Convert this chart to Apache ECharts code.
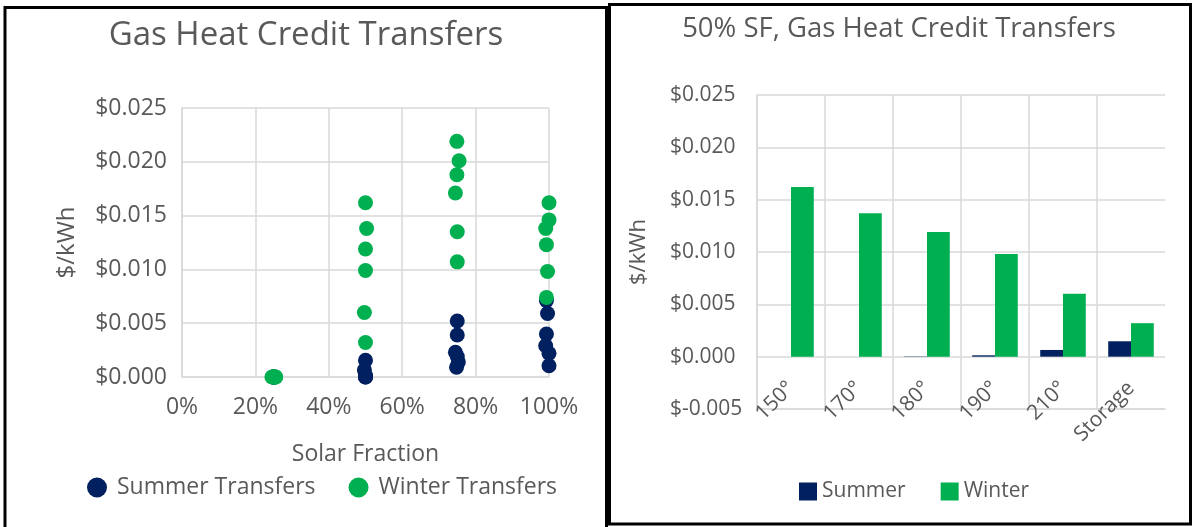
<!DOCTYPE html>
<html><head><meta charset="utf-8">
<script src="https://cdn.jsdelivr.net/npm/echarts@6/dist/echarts.min.js"></script>
<style>html,body{margin:0;padding:0;background:#fff;}#c{width:1193px;height:527px;}</style>
</head><body><div id="c"></div>
<script>
const FONT = '"Open Sans", sans-serif';
const TXT = '#595959';
const GRIDC = '#d9d9d9';
const NAVY = '#002060';
const GREEN = '#00B050';

const scatterTitle = 'Gas Heat Credit Transfers';
const barTitle = '50% SF, Gas Heat Credit Transfers';
const yAxisName = '$/kWh';
const xAxisName = 'Solar Fraction';
const scatterNames = ['Summer Transfers', 'Winter Transfers'];
const barNames = ['Summer', 'Winter'];

// [solar fraction, $/kWh]
const summerTransfers = [
  [0.25,0],[0.25,0],[0.25,0],[0.25,0],[0.25,0],[0.25,0],
  [0.5,0],[0.5,0],[0.5,0.00003],[0.5,0.00013],[0.497,0.00064],[0.5,0.00155],
  [0.748,0.0009],[0.753,0.0014],[0.75,0.0019],[0.745,0.0023],[0.75,0.0039],[0.75,0.0052],
  [1.0,0.00105],[1.0,0.0022],[0.991,0.0029],[0.993,0.0040],[0.996,0.0059],[0.993,0.0071]
];
const winterTransfers = [
  [0.245,0],[0.25,0],[0.25,0],[0.255,0],[0.255,0],[0.25,0],
  [0.5,0.0162],[0.503,0.0138],[0.5,0.0119],[0.5,0.0099],[0.497,0.0060],[0.5,0.0032],
  [0.749,0.0219],[0.755,0.0201],[0.749,0.0188],[0.745,0.0171],[0.75,0.0135],[0.75,0.0107],
  [1.0,0.0162],[1.0,0.0146],[0.991,0.0138],[0.993,0.0123],[0.996,0.0098],[0.993,0.0074]
];

const barCategories = ['150°','170°','180°','190°','210°','Storage'];
const barSummer = [0, 0, 0.00003, 0.00013, 0.00064, 0.00147];
const barWinter = [0.0162, 0.0137, 0.0119, 0.0098, 0.0060, 0.0032];

const money = v => '$' + v.toFixed(3);
const pct = v => Math.round(v * 100) + '%';

const chart = echarts.init(document.getElementById('c'), null, {renderer: 'canvas'});
const lbl = (size) => ({fontFamily: FONT, fontSize: size, color: TXT});

chart.setOption({
  animation: false,
  backgroundColor: '#fff',
  title: [
    {text: scatterTitle, left: 301, top: 14, textAlign: 'center',
     textStyle: {fontFamily: FONT, fontSize: 33, fontWeight: 'normal', color: TXT}},
    {text: barTitle, left: 894, top: 10, textAlign: 'center',
     textStyle: {fontFamily: FONT, fontSize: 27.5, fontWeight: 'normal', color: TXT}}
  ],
  legend: [
    {data: scatterNames, left: 82, top: 471, icon: 'circle', itemWidth: 20, itemHeight: 20, itemGap: 33,
     textStyle: Object.assign(lbl(23), {padding: [0,0,0,5]})},
    {data: barNames, left: 794, top: 476, icon: 'rect', itemWidth: 18, itemHeight: 18, itemGap: 35,
     textStyle: lbl(21)}
  ],
  grid: [
    {left: 182, top: 108, width: 367, height: 269},
    {left: 757, top: 95, width: 408, height: 314}
  ],
  xAxis: [
    {gridIndex: 0, type: 'value', min: 0, max: 1, interval: 0.2,
     name: xAxisName, nameLocation: 'middle', nameGap: 66, nameTextStyle: lbl(23),
     axisLine: {show: true, lineStyle: {color: GRIDC, width: 1.5}},
     axisTick: {show: false},
     axisLabel: Object.assign(lbl(23), {margin: 19, formatter: pct}),
     splitLine: {show: true, lineStyle: {color: GRIDC, width: 1.5}}},
    {gridIndex: 1, type: 'category', data: barCategories,
     axisLine: {show: true, onZero: false, lineStyle: {color: GRIDC, width: 1.5}},
     axisTick: {show: false},
     axisLabel: Object.assign(lbl(21), {rotate: 45, interval: 0, margin: -24}),
     splitLine: {show: true, showMaxLine: false, interval: 0, lineStyle: {color: GRIDC, width: 1.5}}}
  ],
  yAxis: [
    {gridIndex: 0, type: 'value', min: 0, max: 0.025, interval: 0.005,
     name: yAxisName, nameLocation: 'middle', nameGap: 103, nameRotate: 90, nameTextStyle: lbl(24),
     axisLine: {show: true, lineStyle: {color: GRIDC, width: 1.5}},
     axisTick: {show: false},
     axisLabel: Object.assign(lbl(23), {margin: 15, formatter: money}),
     splitLine: {show: true, lineStyle: {color: GRIDC, width: 1.5}}},
    {gridIndex: 1, type: 'value', min: -0.005, max: 0.025, interval: 0.005,
     name: yAxisName, nameLocation: 'middle', nameGap: 107, nameRotate: 90, nameTextStyle: lbl(22),
     axisLine: {show: true, lineStyle: {color: GRIDC, width: 1.5}},
     axisTick: {show: false},
     axisLabel: Object.assign(lbl(21), {margin: 87, align: 'left', formatter: money}),
     splitLine: {show: true, lineStyle: {color: GRIDC, width: 1.5}}}
  ],
  series: [
    {name: scatterNames[0], type: 'scatter', xAxisIndex: 0, yAxisIndex: 0, data: summerTransfers,
     symbol: 'circle', symbolSize: 15, itemStyle: {color: NAVY, opacity: 1}},
    {name: scatterNames[1], type: 'scatter', xAxisIndex: 0, yAxisIndex: 0, data: winterTransfers,
     symbol: 'circle', symbolSize: 15, itemStyle: {color: GREEN, opacity: 1}},
    {name: barNames[0], type: 'bar', xAxisIndex: 1, yAxisIndex: 1, data: barSummer,
     barGap: '0%', barCategoryGap: '33%', itemStyle: {color: NAVY}},
    {name: barNames[1], type: 'bar', xAxisIndex: 1, yAxisIndex: 1, data: barWinter,
     barGap: '0%', barCategoryGap: '33%', itemStyle: {color: GREEN}}
  ],
  graphic: [
    {type: 'rect', silent: true, z: 100, shape: {x: 5, y: 7.5, width: 601.5, height: 560},
     style: {fill: 'none', stroke: '#000', lineWidth: 3}},
    {type: 'rect', silent: true, z: 100, shape: {x: 609.5, y: 4.5, width: 581, height: 519.5},
     style: {fill: 'none', stroke: '#000', lineWidth: 3}}
  ]
});
</script></body></html>
